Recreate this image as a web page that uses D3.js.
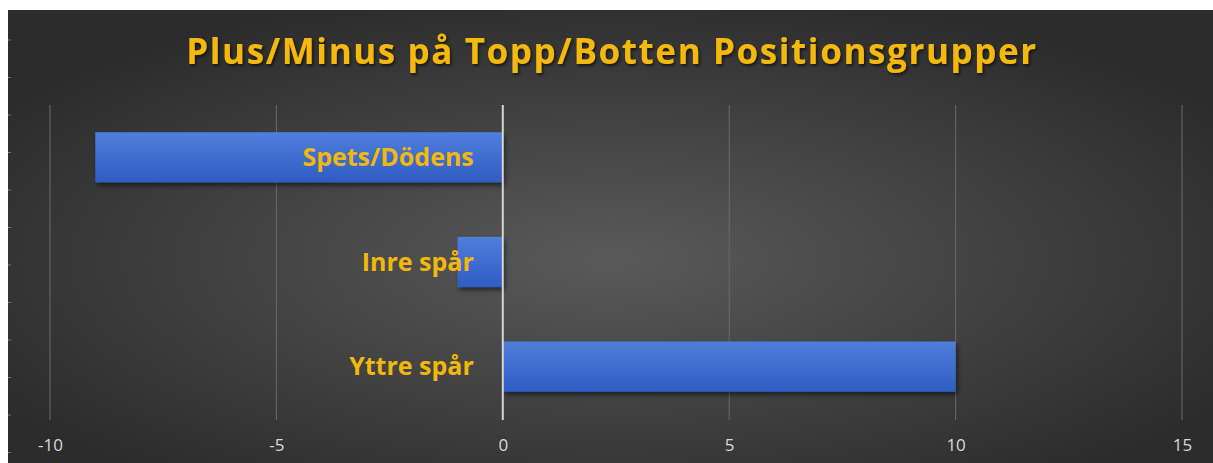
<!DOCTYPE html>
<html>
<head>
<meta charset="utf-8">
<script src="https://cdn.jsdelivr.net/npm/d3@7"></script>
<style>
  html, body { margin: 0; padding: 0; background: #fff; }
  svg { display: block; }
</style>
</head>
<body>
<svg id="chart" width="1213" height="463"></svg>
<script>
const categories = ["Spets/Dödens", "Inre spår", "Yttre spår"];
const values = [-9, -1, 10];
const xTicks = [-10, -5, 0, 5, 10, 15];
const title = "Plus/Minus på Topp/Botten Positionsgrupper";

const svg = d3.select("#chart");
const W = 1213, H = 463;
const padLeft = 8, padTop = 10;

const defs = svg.append("defs");
const bg = defs.append("radialGradient").attr("id", "bg")
    .attr("cx", "50%").attr("cy", "55%").attr("r", "60%");
bg.append("stop").attr("offset", "0%").attr("stop-color", "#5a5a5a");
bg.append("stop").attr("offset", "100%").attr("stop-color", "#2c2c2c");

const barGrad = defs.append("linearGradient").attr("id", "barGrad")
    .attr("x1", 0).attr("y1", 0).attr("x2", 0).attr("y2", 1);
barGrad.append("stop").attr("offset", "0%").attr("stop-color", "#4f7fdc");
barGrad.append("stop").attr("offset", "100%").attr("stop-color", "#2e5cc2");

const shadow = defs.append("filter").attr("id", "shadow")
    .attr("x", "-10%").attr("y", "-20%").attr("width", "130%").attr("height", "160%");
shadow.append("feDropShadow").attr("dx", 2).attr("dy", 3).attr("stdDeviation", 2.5)
    .attr("flood-color", "#000").attr("flood-opacity", 0.55);

const tshadow = defs.append("filter").attr("id", "tshadow");
tshadow.append("feDropShadow").attr("dx", 1.5).attr("dy", 2).attr("stdDeviation", 1.5)
    .attr("flood-color", "#000").attr("flood-opacity", 0.6);

svg.append("rect")
    .attr("x", padLeft).attr("y", padTop)
    .attr("width", W - padLeft).attr("height", H - padTop)
    .attr("fill", "url(#bg)");

// faint marks on the left border
svg.append("g").selectAll("line")
    .data(d3.range(40, 460, 37.5))
    .enter().append("line")
    .attr("x1", padLeft).attr("x2", padLeft + 3)
    .attr("y1", d => d).attr("y2", d => d)
    .attr("stroke", "#777").attr("stroke-width", 1);

const x = d3.scaleLinear().domain([-10, 15]).range([50, 1182]);
const y = d3.scaleBand().domain(categories).range([105, 419]).paddingInner(0.52).paddingOuter(0.26);

// gridlines
svg.append("g").selectAll("line")
    .data(xTicks.filter(d => d !== 0))
    .enter().append("line")
    .attr("x1", d => x(d)).attr("x2", d => x(d))
    .attr("y1", 105).attr("y2", 420)
    .attr("stroke", "#6b6b6b").attr("stroke-width", 1);

// x axis labels
const xAxis = svg.append("g")
    .attr("transform", "translate(0,420)")
    .call(d3.axisBottom(x).tickValues(xTicks).tickSize(0).tickPadding(19).tickFormat(d => String(d)));
xAxis.select(".domain").remove();
xAxis.selectAll("text")
    .attr("fill", "#d9d9d9")
    .style("font-family", "'Open Sans', sans-serif")
    .style("font-size", "17px");

// bars
svg.append("g").selectAll("rect")
    .data(values)
    .enter().append("rect")
    .attr("x", d => x(Math.min(0, d)))
    .attr("y", (d, i) => y(categories[i]))
    .attr("width", d => Math.abs(x(d) - x(0)))
    .attr("height", y.bandwidth())
    .attr("fill", "url(#barGrad)")
    .attr("filter", "url(#shadow)");

// zero line
svg.append("line")
    .attr("x1", x(0)).attr("x2", x(0))
    .attr("y1", 105).attr("y2", 420)
    .attr("stroke", "#d4d4d4").attr("stroke-width", 2);

// category labels
svg.append("g").selectAll("text")
    .data(categories)
    .enter().append("text")
    .attr("x", x(0) - 29)
    .attr("y", d => y(d) + y.bandwidth() / 2)
    .attr("dy", "0.35em")
    .attr("text-anchor", "end")
    .attr("fill", "#f2b80c")
    .style("font-family", "'Open Sans', sans-serif")
    .style("font-weight", "bold")
    .style("font-size", "25px")
    .text(d => d);

// title
svg.append("text")
    .attr("x", 612).attr("y", 64)
    .attr("text-anchor", "middle")
    .attr("fill", "#f5b90f")
    .attr("filter", "url(#tshadow)")
    .style("font-family", "'Open Sans', sans-serif")
    .style("font-weight", "bold")
    .style("font-size", "35px")
    .style("letter-spacing", "1.6px")
    .text(title);
</script>
</body>
</html>
